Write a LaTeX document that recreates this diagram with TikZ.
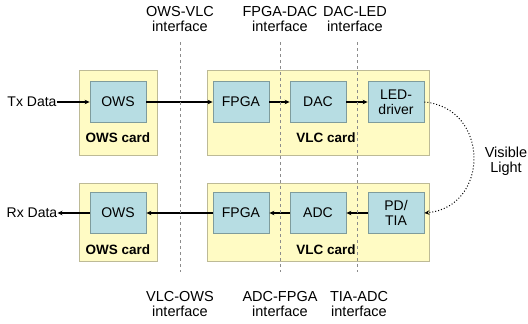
\documentclass[tikz,border=0pt]{standalone}
\usepackage{fontspec}
\setmainfont{Liberation Sans}
\usetikzlibrary{arrows.meta}
\definecolor{cardfill}{HTML}{FFFBC4}
\definecolor{cardline}{HTML}{BDBA96}
\definecolor{blockfill}{HTML}{B7DDE3}
\definecolor{blockline}{HTML}{7F9C9C}
\begin{document}
\begin{tikzpicture}[
    x=1pt,y=-1pt,
    card/.style={draw=cardline,fill=cardfill,line width=0.8pt,anchor=north west,inner sep=0pt},
    block/.style={draw=blockline,fill=blockfill,line width=0.8pt,minimum width=56pt,minimum height=41pt,
        align=center,inner sep=1pt,font=\fontsize{14}{15}\selectfont},
    cardname/.style={font=\fontsize{13.5}{14}\selectfont\bfseries},
    iface/.style={align=center,inner sep=0pt,font=\fontsize{14.5}{15.5}\selectfont},
    cut/.style={draw=black!45,dashed,line width=0.6pt},
    link/.style={->,line width=1.4pt,>={Stealth[length=5pt,width=4.5pt]}},
    >=Stealth
]
\useasboundingbox (0,0) rectangle (528,324);

% cards
\node[card,minimum width=78pt,minimum height=85pt] (owscardtx) at (79,70) {};
\node[card,minimum width=222pt,minimum height=85pt] (vlccardtx) at (207,70) {};
\node[card,minimum width=78pt,minimum height=78pt] (owscardrx) at (79,183) {};
\node[card,minimum width=222pt,minimum height=78pt] (vlccardrx) at (207,183) {};

\node[cardname] (owsnametx) at (118,138) {OWS card};
\node[cardname] (vlcnametx) at (326,138) {VLC card};
\node[cardname] (owsnamerx) at (118,250) {OWS card};
\node[cardname] (vlcnamerx) at (326,250) {VLC card};

% transmit path
\node[block] (owstx) at (118,102) {OWS};
\node[block] (fpgatx) at (241,102) {FPGA};
\node[block] (dac) at (318,102) {DAC};
\node[block] (led) at (396,102) {LED-\\driver};

% receive path
\node[block] (owsrx) at (118,213) {OWS};
\node[block] (fpgarx) at (241,213) {FPGA};
\node[block] (adc) at (318,213) {ADC};
\node[block] (pd) at (396,213) {PD/\\TIA};

\node[font=\fontsize{14}{15}\selectfont,inner sep=0pt] (txdata) at (32,102) {Tx Data};
\node[font=\fontsize{14}{15}\selectfont,inner sep=0pt] (rxdata) at (32,213) {Rx Data};

\draw[link] (txdata.east) -- (owstx.west);
\draw[link] (owstx.east) -- (fpgatx.west);
\draw[link] (fpgatx.east) -- (dac.west);
\draw[link] (dac.east) -- (led.west);

\draw[link] (pd.west) -- (adc.east);
\draw[link] (adc.west) -- (fpgarx.east);
\draw[link] (fpgarx.west) -- (owsrx.east);
\draw[link] (owsrx.west) -- (rxdata.east);

% optical link
\draw[dotted,line width=1pt,->,>={Stealth[length=5pt,width=4.5pt]}]
    (led.east) .. controls (490,108) and (490,207) .. (pd.east);
\node[iface] (light) at (506,161) {Visible\\Light};

% interfaces
\coordinate (cut1top) at (180,42);
\coordinate (cut1bot) at (180,272);
\coordinate (cut2top) at (280,42);
\coordinate (cut2bot) at (280,272);
\coordinate (cut3top) at (357,42);
\coordinate (cut3bot) at (357,272);
\draw[cut] (cut1top) -- (cut1bot);
\draw[cut] (cut2top) -- (cut2bot);
\draw[cut] (cut3top) -- (cut3bot);

\node[iface] (owsvlc) at (180,19) {OWS-VLC\\interface};
\node[iface] (fpgadac) at (280,19) {FPGA-DAC\\interface};
\node[iface] (dacled) at (355,19) {DAC-LED\\interface};
\node[iface] (vlcows) at (180,304) {VLC-OWS\\interface};
\node[iface] (adcfpga) at (280,304) {ADC-FPGA\\interface};
\node[iface] (tiaadc) at (359,304) {TIA-ADC\\interface};
\end{tikzpicture}
\end{document}
